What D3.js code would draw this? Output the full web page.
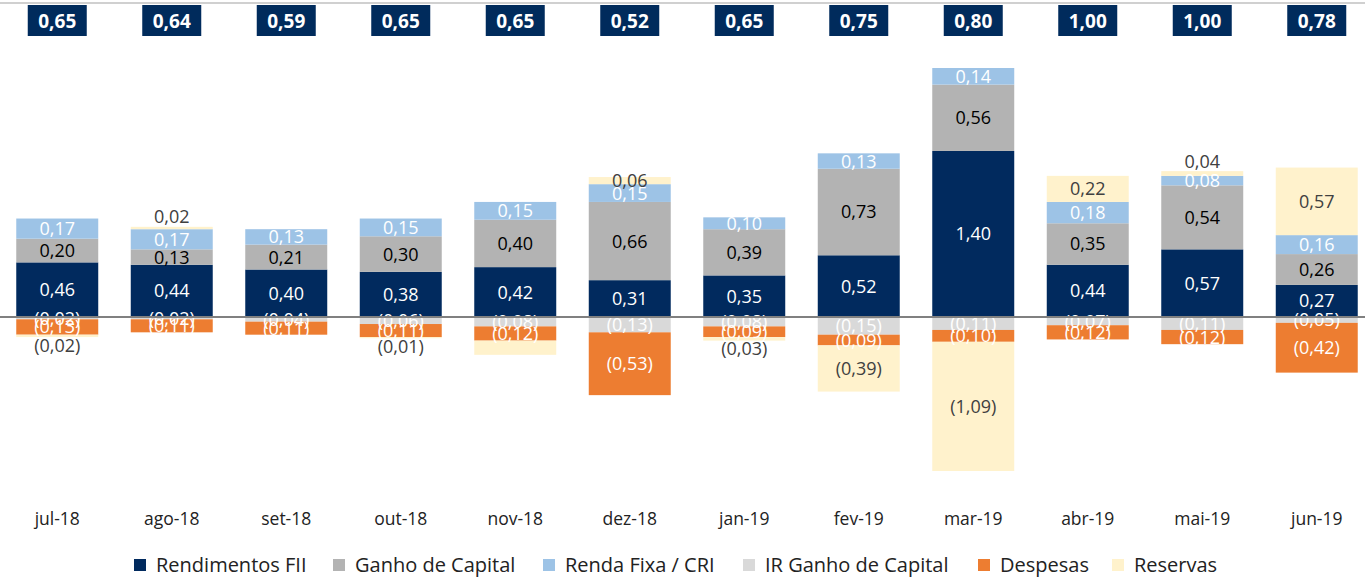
<!DOCTYPE html>
<html>
<head>
<meta charset="utf-8">
<script src="https://cdn.jsdelivr.net/npm/d3@7"></script>
<style>
  body { margin: 0; background: #fff; }
  svg { display: block; font-family: "Open Sans", sans-serif; }
</style>
</head>
<body>
<svg id="chart" width="1365" height="577"></svg>
<script>
// data
var months = ["jul-18", "ago-18", "set-18", "out-18", "nov-18", "dez-18", "jan-19", "fev-19", "mar-19", "abr-19", "mai-19", "jun-19"];
var totals = [0.65, 0.64, 0.59, 0.65, 0.65, 0.52, 0.65, 0.75, 0.80, 1.00, 1.00, 0.78];
var rendimentos = [0.46, 0.44, 0.40, 0.38, 0.42, 0.31, 0.35, 0.52, 1.40, 0.44, 0.57, 0.27];
var ganho = [0.20, 0.13, 0.21, 0.30, 0.40, 0.66, 0.39, 0.73, 0.56, 0.35, 0.54, 0.26];
var rendaFixa = [0.17, 0.17, 0.13, 0.15, 0.15, 0.15, 0.10, 0.13, 0.14, 0.18, 0.08, 0.16];
var irGanho = [-0.02, -0.02, -0.04, -0.06, -0.08, -0.13, -0.08, -0.15, -0.11, -0.07, -0.11, -0.05];
var despesas = [-0.13, -0.11, -0.11, -0.11, -0.12, -0.53, -0.09, -0.09, -0.10, -0.12, -0.12, -0.42];
var reservas = [-0.02, 0.02, 0, -0.01, -0.12, 0.06, -0.03, -0.39, -1.09, 0.22, 0.04, 0.57];

var keys = ["Rendimentos FII", "Ganho de Capital", "Renda Fixa / CRI", "IR Ganho de Capital", "Despesas", "Reservas"];
var seriesValues = [rendimentos, ganho, rendaFixa, irGanho, despesas, reservas];
var colors = ["#012a5e", "#b3b3b3", "#9dc3e6", "#d9d9d9", "#ed7d31", "#fff2cc"];
var labelColors = ["#ffffff", "#000000", "#ffffff", "#ffffff", "#ffffff", "#404040"];

var rows = months.map(function (m, i) {
    var r = { month: m };
    keys.forEach(function (k, j) { r[k] = seriesValues[j][i]; });
    return r;
});

var svg = d3.select("#chart");
var W = 1365;

var x = d3.scaleBand().domain(months).range([0, 1374]).paddingInner(0.284).paddingOuter(0.142);
var y = d3.scaleLinear().domain([-1.30, 2.10]).range([471, 68]);

var stack = d3.stack().keys(keys).offset(d3.stackOffsetDiverging);
var layers = stack(rows);

function fmt(v) {
    var s = d3.format(".2f")(Math.abs(v)).replace(".", ",");
    return v < 0 ? "(" + s + ")" : s;
}

// top border line
svg.append("line")
    .attr("x1", 0).attr("x2", W).attr("y1", 3).attr("y2", 3)
    .attr("stroke", "#d0d0d0").attr("stroke-width", 2);

var g = svg.append("g");

layers.forEach(function (layer, li) {
    g.selectAll(".bar" + li)
        .data(layer)
        .enter().append("rect")
        .attr("x", function (d) { return x(d.data.month); })
        .attr("y", function (d) { return y(Math.max(d[0], d[1])); })
        .attr("width", x.bandwidth())
        .attr("height", function (d) { return Math.abs(y(d[0]) - y(d[1])); })
        .attr("fill", colors[li]);
});

// zero line
svg.append("line")
    .attr("x1", 0).attr("x2", W).attr("y1", y(0)).attr("y2", y(0))
    .attr("stroke", "#808080").attr("stroke-width", 2);

// data labels (they overlap on the thin segments, same as the original)
layers.forEach(function (layer, li) {
    g.selectAll(".lbl" + li)
        .data(layer.filter(function (d) {
            var v = d.data[layer.key];
            if (v === 0) return false;
            // reservas label in nov-18 is not shown in the original
            if (li === 5 && d.data.month === "nov-18") return false;
            return true;
        }))
        .enter().append("text")
        .attr("x", function (d) { return x(d.data.month) + x.bandwidth() / 2; })
        .attr("y", function (d) {
            var v = d.data[layer.key];
            var mid = (y(d[0]) + y(d[1])) / 2;
            if (li === 5 && Math.abs(v) < 0.05) {
                return v > 0 ? y(d[1]) - 10 : y(d[0]) + 8;
            }
            return mid;
        })
        .attr("dy", "0.36em")
        .attr("text-anchor", "middle")
        .attr("font-size", 18)
        .attr("fill", labelColors[li])
        .text(function (d) { return fmt(d.data[layer.key]); });
});

// total boxes on top
var tot = svg.append("g");
tot.selectAll("rect")
    .data(totals)
    .enter().append("rect")
    .attr("x", function (d, i) { return x(months[i]) + x.bandwidth() / 2 - 29.5; })
    .attr("y", 5)
    .attr("width", 59)
    .attr("height", 31)
    .attr("fill", "#002b5c");
tot.selectAll("text")
    .data(totals)
    .enter().append("text")
    .attr("x", function (d, i) { return x(months[i]) + x.bandwidth() / 2; })
    .attr("y", 21)
    .attr("dy", "0.36em")
    .attr("text-anchor", "middle")
    .attr("font-size", 19)
    .attr("font-weight", "bold")
    .attr("fill", "#fff")
    .text(function (d) { return fmt(d); });

// x axis labels
svg.append("g")
    .attr("transform", "translate(0,519)")
    .call(d3.axisBottom(x).tickSize(0).tickPadding(0))
    .call(function (a) { a.select(".domain").remove(); })
    .selectAll("text")
    .attr("dy", "0.36em")
    .attr("y", 0)
    .attr("font-family", "'Open Sans', sans-serif")
    .attr("font-size", 17.5)
    .attr("fill", "#222");

// legend
var legendX = [134, 333, 543, 743, 978, 1112];
var legend = svg.append("g").attr("transform", "translate(0,565)");
var items = legend.selectAll("g")
    .data(keys)
    .enter().append("g")
    .attr("transform", function (d, i) { return "translate(" + legendX[i] + ",0)"; });
items.append("rect")
    .attr("x", 0).attr("y", -6)
    .attr("width", 12).attr("height", 12)
    .attr("fill", function (d, i) { return colors[i]; });
items.append("text")
    .attr("x", 22)
    .attr("dy", "0.36em")
    .attr("font-size", 20)
    .attr("fill", "#222")
    .text(function (d) { return d; });
</script>
</body>
</html>
